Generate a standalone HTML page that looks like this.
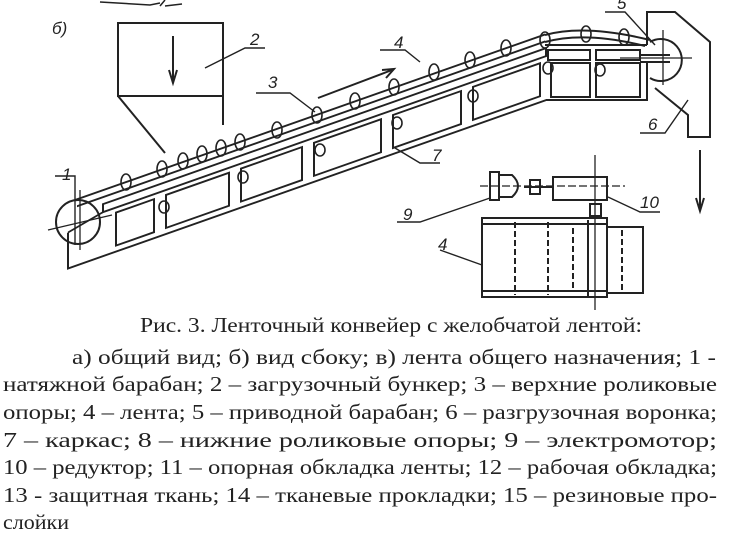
<!DOCTYPE html>
<html><head><meta charset="utf-8"><style>
html,body{margin:0;padding:0;background:#fff;width:751px;height:559px;overflow:hidden}
svg{display:block}
text{font-family:"Liberation Serif",serif;fill:#222}
.l{font-family:"Liberation Sans",sans-serif;font-style:italic;font-size:17px}
</style></head><body>
<svg width="751" height="559" viewBox="0 0 751 559" xmlns="http://www.w3.org/2000/svg">
<g fill="none" stroke="#222" stroke-width="2">
<!-- top artifact -->
<path d="M100,2 L150,5 L160,3" stroke-width="1.5"/><path d="M160,6 L165,0 M165,6 L182,4" stroke-width="1.5"/>
<!-- hopper -->
<rect x="118" y="23" width="105" height="73"/>
<polyline points="118,96 165,153"/><polyline points="223,96 223,125"/>
<line x1="173" y1="36" x2="173" y2="82"/><polyline points="169,70 173,83 177,70"/>
<!-- belt & frame (skewed) -->
<g transform="translate(75,200) skewY(-19.4)">
<line x1="0" y1="0" x2="470" y2="0"/>
<line x1="2" y1="7" x2="470" y2="7"/>
<rect x="28" y="14" width="443" height="8"/>
<rect x="41" y="27" width="38" height="33"/><rect x="91" y="27" width="63" height="33"/>
<rect x="166" y="27" width="61" height="33"/><rect x="239" y="27" width="67" height="33"/>
<rect x="318" y="27" width="68" height="33"/><rect x="398" y="27" width="67" height="33"/>
<polyline points="-7,30 -7,66 471,66"/>
<line x1="-7" y1="30" x2="28" y2="22"/>
</g>
<path d="M545,35 Q585,24 650,40"/>
<path d="M545,42 Q585,31 645,46"/>
<!-- right frame -->
<polyline points="545,45 647,45"/>
<rect x="548" y="50" width="42" height="10"/><rect x="596" y="50" width="44" height="10"/>
<rect x="551" y="63" width="39" height="34"/><rect x="596" y="63" width="44" height="34"/>
<polyline points="546,100 647,100 647,62"/>
<line x1="640" y1="55" x2="670" y2="55"/><line x1="640" y1="62" x2="670" y2="62"/>
<!-- drums -->
<circle cx="78" cy="222" r="22"/>
<path d="M650,42 A21,21 0 1 1 650,78"/>
<line x1="48" y1="230" x2="112" y2="215" stroke-width="1.3"/><line x1="620" y1="58" x2="692" y2="58" stroke-width="1.3"/>
<line x1="80" y1="190" x2="80" y2="250" stroke-width="1.3"/><line x1="663" y1="30" x2="663" y2="85" stroke-width="1.3"/>
<!-- chute -->
<polyline points="647,45 647,12 675,12 710,42 710,137 688,137 688,115 655,88"/>
<line x1="700" y1="150" x2="700" y2="210"/><polyline points="696,198 700,211 704,198"/>
<!-- direction arrow -->
<line x1="318" y1="98" x2="392" y2="70"/><polyline points="382,70 394,69 386,78"/>
<!-- rollers -->
<g stroke-width="1.6">
<ellipse cx="126" cy="182" rx="5" ry="8"/><ellipse cx="162" cy="169" rx="5" ry="8"/><ellipse cx="183" cy="161" rx="5" ry="8"/>
<ellipse cx="202" cy="154" rx="5" ry="8"/><ellipse cx="221" cy="148" rx="5" ry="8"/><ellipse cx="240" cy="142" rx="5" ry="8"/>
<ellipse cx="277" cy="130" rx="5" ry="8"/><ellipse cx="317" cy="115" rx="5" ry="8"/><ellipse cx="355" cy="101" rx="5" ry="8"/>
<ellipse cx="394" cy="87" rx="5" ry="8"/><ellipse cx="434" cy="72" rx="5" ry="8"/><ellipse cx="470" cy="60" rx="5" ry="8"/>
<ellipse cx="506" cy="48" rx="5" ry="8"/><ellipse cx="545" cy="40" rx="5" ry="8"/><ellipse cx="586" cy="34" rx="5" ry="8"/><ellipse cx="624" cy="37" rx="5" ry="8"/>
<ellipse cx="164" cy="207" rx="5" ry="6"/><ellipse cx="243" cy="177" rx="5" ry="6"/><ellipse cx="320" cy="150" rx="5" ry="6"/>
<ellipse cx="397" cy="123" rx="5" ry="6"/><ellipse cx="473" cy="96" rx="5" ry="6"/><ellipse cx="548" cy="68" rx="5" ry="6"/><ellipse cx="600" cy="70" rx="5" ry="6"/>
</g>
<!-- motor/reducer -->
<rect x="490" y="172" width="9" height="28"/><path d="M499,175 L512,175 Q524,186 512,197 L499,197"/>
<rect x="530" y="180" width="10" height="14"/><line x1="524" y1="187" x2="553" y2="187"/>
<rect x="553" y="177" width="54" height="23"/>
<line x1="480" y1="186" x2="625" y2="186" stroke-dasharray="8,3" stroke-width="1.3"/>
<line x1="595" y1="155" x2="595" y2="310" stroke-width="1.3"/>
<rect x="590" y="204" width="11" height="12"/>
<!-- plan belt -->
<rect x="482" y="218" width="125" height="79"/>
<polyline points="607,227 643,227 643,293 607,293"/>
<line x1="482" y1="224" x2="607" y2="224"/><line x1="482" y1="291" x2="607" y2="291"/>
<g stroke-dasharray="6,3"><line x1="515" y1="222" x2="515" y2="295"/><line x1="548" y1="222" x2="548" y2="295"/><line x1="573" y1="228" x2="573" y2="290"/><line x1="622" y1="230" x2="622" y2="290"/></g>
<line x1="588" y1="220" x2="588" y2="296"/>
<!-- leaders -->
<g stroke-width="1.4">
<polyline points="205,68 245,48 265,48"/><polyline points="380,50 405,50 420,62"/>
<polyline points="256,93 290,93 315,112"/><polyline points="605,12 625,12 655,45"/>
<polyline points="640,133 665,133 688,100"/><polyline points="395,148 420,163 440,163"/>
<polyline points="397,222 420,222 490,198"/><polyline points="608,197 640,212 660,212"/>
<polyline points="440,250 482,265"/><polyline points="55,176 75,176 75,245"/>
</g>
</g>
<text class="l" x="52" y="34" font-size="18">б)</text>
<text class="l" x="250" y="45">2</text><text class="l" x="394" y="48">4</text>
<text class="l" x="268" y="88">3</text><text class="l" x="617" y="9">5</text>
<text class="l" x="648" y="130">6</text><text class="l" x="432" y="161">7</text>
<text class="l" x="62" y="180">1</text><text class="l" x="403" y="220">9</text>
<text class="l" x="640" y="208">10</text><text class="l" x="438" y="250">4</text>
<g font-size="21">
<text x="140" y="332" textLength="502" lengthAdjust="spacingAndGlyphs">Рис. 3. Ленточный конвейер с желобчатой лентой:</text>
<text x="72" y="364" textLength="644" lengthAdjust="spacingAndGlyphs">а) общий вид; б) вид сбоку; в) лента общего назначения; 1 -</text>
<text x="3" y="391" textLength="714" lengthAdjust="spacingAndGlyphs">натяжной барабан; 2 – загрузочный бункер; 3 – верхние роликовые</text>
<text x="3" y="419" textLength="714" lengthAdjust="spacingAndGlyphs">опоры; 4 – лента;  5 – приводной барабан;  6 – разгрузочная воронка;</text>
<text x="3" y="447" textLength="714" lengthAdjust="spacingAndGlyphs">7  –  каркас; 8 – нижние роликовые опоры; 9 – электромотор;</text>
<text x="3" y="474" textLength="714" lengthAdjust="spacingAndGlyphs">10 – редуктор; 11 – опорная обкладка ленты; 12 – рабочая обкладка;</text>
<text x="3" y="502" textLength="714" lengthAdjust="spacingAndGlyphs">13 - защитная ткань; 14 – тканевые прокладки; 15 – резиновые про-</text>
<text x="3" y="529" textLength="66" lengthAdjust="spacingAndGlyphs">слойки</text>
</g>
</svg>
</body></html>
